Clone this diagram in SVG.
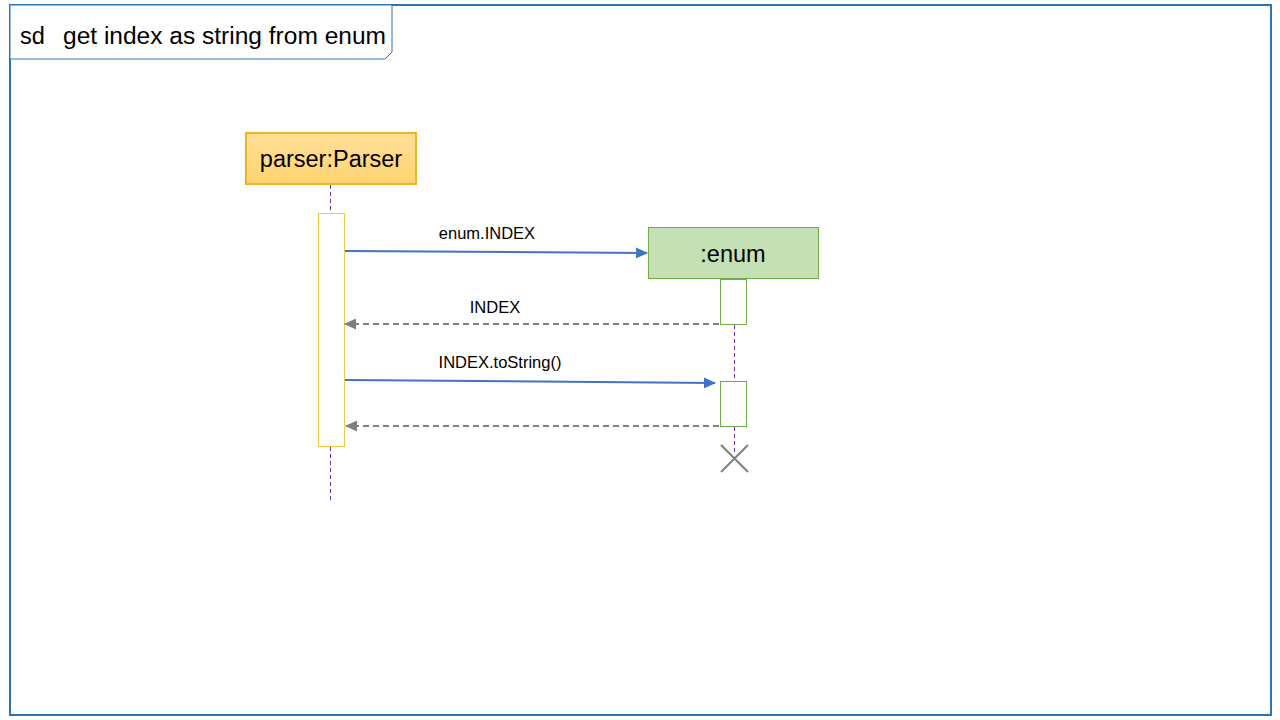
<svg xmlns="http://www.w3.org/2000/svg" width="1280" height="720" viewBox="0 0 1280 720">
<defs>
<style>
text{font-family:"Liberation Sans",Arial,sans-serif;fill:#000}
.frame{fill:none;stroke:#2e75b6;stroke-width:2}
.title{fill:#fff;stroke:#2e75b6;stroke-width:1}
.life{stroke:#7030a0;stroke-width:1;stroke-dasharray:4,3;fill:none}
.actP{fill:#fff;stroke:#f2c744;stroke-width:1}
.actE{fill:#fff;stroke:#70ad47;stroke-width:1}
.call{stroke:#4472c4;stroke-width:2;fill:none}
.ret{stroke:#7f7f7f;stroke-width:2;stroke-dasharray:6,4;fill:none}
.lbl{font-size:16.5px;text-anchor:middle}
</style>
<linearGradient id="gP" x1="0" y1="0" x2="0" y2="1">
<stop offset="0" stop-color="#ffe09a"/>
<stop offset="1" stop-color="#ffd36e"/>
</linearGradient>
<marker id="aC" markerWidth="12" markerHeight="11" refX="11" refY="5.5" orient="auto" markerUnits="userSpaceOnUse" viewBox="0 0 12 11">
<path d="M0,0 L12,5.5 L0,11 z" fill="#4472c4"/>
</marker>
<marker id="aR" markerWidth="12" markerHeight="11" refX="11" refY="5.5" orient="auto" markerUnits="userSpaceOnUse" viewBox="0 0 12 11">
<path d="M0,0 L12,5.5 L0,11 z" fill="#7f7f7f"/>
</marker>
</defs>
<rect width="1280" height="720" fill="#fff"/>
<g id="frame">
<rect class="frame" x="10" y="5" width="1261" height="710"/>
<path class="title" d="M10,5 H392 V52 L385,59 H10 Z"/>
<text x="20" y="44" font-size="23.5">sd</text>
<text x="63" y="44" font-size="23.5" textLength="323" lengthAdjust="spacingAndGlyphs">get index as string from enum</text>
</g>
<g id="parser">
<rect x="246" y="133" width="170" height="51" fill="url(#gP)" stroke="#f0b41e" stroke-width="2"/>
<text x="331" y="167" font-size="23.5" text-anchor="middle">parser:Parser</text>
<line class="life" x1="330.5" y1="185" x2="330.5" y2="213"/>
<rect class="actP" x="318.5" y="213.5" width="26" height="233"/>
<line class="life" x1="330.5" y1="447" x2="330.5" y2="501"/>
</g>
<g id="enum">
<rect x="648.5" y="227.5" width="170" height="51" fill="#c5e0b4" stroke="#70ad47" stroke-width="1"/>
<text x="733" y="262" font-size="23.5" text-anchor="middle">:enum</text>
<rect class="actE" x="720.5" y="279.5" width="26" height="45"/>
<line class="life" x1="734.5" y1="325" x2="734.5" y2="381"/>
<rect class="actE" x="720.5" y="381.5" width="26" height="45"/>
<line class="life" x1="734.5" y1="427" x2="734.5" y2="452"/>
<path d="M721,445 L748,472 M748,445 L721,472" stroke="#7f7f7f" stroke-width="2" fill="none"/>
</g>
<g id="connectors">
<line class="call" x1="345" y1="251" x2="647" y2="253" marker-end="url(#aC)"/>
<text class="lbl" x="487" y="239">enum.INDEX</text>
<line class="ret" x1="719" y1="324" x2="345" y2="324" marker-end="url(#aR)"/>
<text class="lbl" x="495" y="313">INDEX</text>
<line class="call" x1="345" y1="380" x2="715" y2="383" marker-end="url(#aC)"/>
<text class="lbl" x="500" y="368">INDEX.toString()</text>
<line class="ret" x1="719" y1="426" x2="346" y2="426" marker-end="url(#aR)"/>
</g>
</svg>
